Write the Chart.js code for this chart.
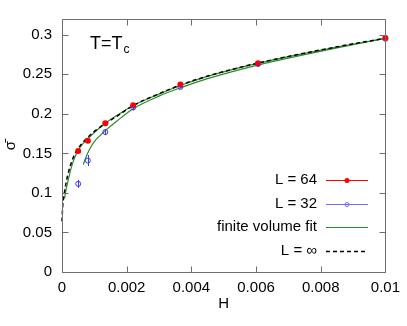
<!DOCTYPE html>
<html>
<head>
<meta charset="utf-8">
<script src="https://cdn.jsdelivr.net/npm/chart.js@4"></script>
<style>
html, body { margin: 0; padding: 0; background: #fff; }
</style>
</head>
<body>
<canvas id="myChart" width="407" height="326"></canvas>
<script>
// measured points
var H = [0.0005, 0.0008, 0.00134, 0.0022, 0.00366, 0.00606, 0.01];
var sigma64 = [0.153, 0.166, 0.188, 0.211, 0.237, 0.264, 0.296];
var sigma32 = [0.1115, 0.141, 0.177, 0.208, 0.234, 0.263, 0.295];
var err32 = [0.005, 0.007, 0.004, 0.003, 0.002, 0.002, 0.002];

// finite volume fits
var fit64H = [0.00008, 0.00012, 0.00018, 0.00026, 0.00034, 0.00045, 0.0006, 0.0008, 0.001, 0.0013, 0.0017, 0.0022, 0.003, 0.0037, 0.0045, 0.0055, 0.0065, 0.0075, 0.0085, 0.01];
var fit64Sigma = [0.093, 0.103, 0.114, 0.128, 0.139, 0.150, 0.160, 0.1685, 0.1765, 0.187, 0.198, 0.2105, 0.225, 0.2365, 0.2475, 0.2585, 0.268, 0.2765, 0.2845, 0.2955];
var fit32H = [0.00066, 0.00075, 0.00085, 0.001, 0.0012, 0.0014, 0.0017, 0.0022, 0.003, 0.0037, 0.0045, 0.0055, 0.0065, 0.0075, 0.0085, 0.01];
var fit32Sigma = [0.136, 0.146, 0.155, 0.165, 0.1735, 0.181, 0.191, 0.2065, 0.2225, 0.2335, 0.2445, 0.256, 0.266, 0.275, 0.2835, 0.2955];

// infinite volume curve
var infH = [0, 0.00002, 0.00008, 0.00018, 0.00034, 0.0005, 0.0008, 0.0011, 0.0014, 0.0017, 0.0022, 0.003, 0.0037, 0.0045, 0.0055, 0.0065, 0.0075, 0.0085, 0.01];
var infSigma = [0.064, 0.082, 0.102, 0.123, 0.144, 0.156, 0.1705, 0.181, 0.1895, 0.197, 0.2105, 0.2255, 0.237, 0.2478, 0.2588, 0.2683, 0.2768, 0.2848, 0.2958];

// ticks
var xTicks = [0, 0.002, 0.004, 0.006, 0.008, 0.01];
var xTickLabels = ["0", "0.002", "0.004", "0.006", "0.008", "0.01"];
var yTicks = [0, 0.05, 0.1, 0.15, 0.2, 0.25, 0.3];
var yTickLabels = ["0", "0.05", "0.1", "0.15", "0.2", "0.25", "0.3"];

var FONT = "'Liberation Sans', Arial, sans-serif";

function pts(xs, ys) {
	var out = [];
	for (var i = 0; i < xs.length; i++) {
		out.push({x: xs[i], y: ys[i]});
	}
	return out;
}

// legend entries, drawn by hand (gnuplot style: text right, sample left)
var legendRows = [
	{text: "L = 64", color: "#ff0000", dash: [], dot: "filled"},
	{text: "L = 32", color: "#6b6bff", dash: [], dot: "open"},
	{text: "finite volume fit", color: "#2a8a2a", dash: [], dot: null},
	{text: "L = \u221e", color: "#000000", dash: [4, 3], dot: null}
];

var extras = {
	id: 'extras',
	afterDatasetsDraw: function(chart) {
		// error bars for L = 32
		var ctx = chart.ctx;
		var xs = chart.scales.x, ys = chart.scales.y;
		ctx.save();
		ctx.strokeStyle = "#3a3aee";
		ctx.lineWidth = 1;
		ctx.beginPath();
		for (var i = 0; i < H.length; i++) {
			var px = Math.round(xs.getPixelForValue(H[i])) + 0.5;
			ctx.moveTo(px, ys.getPixelForValue(sigma32[i] - err32[i]));
			ctx.lineTo(px, ys.getPixelForValue(sigma32[i] + err32[i]));
		}
		ctx.stroke();
		ctx.restore();
	},
	afterDraw: function(chart) {
		var ctx = chart.ctx, a = chart.chartArea;
		var xs = chart.scales.x, ys = chart.scales.y;
		ctx.save();

		//frame + inward ticks
		ctx.strokeStyle = "#6e6e6e";
		ctx.lineWidth = 1;
		ctx.beginPath();
		var L = Math.round(a.left) + 0.5, R = Math.round(a.right) + 0.5;
		var T = Math.round(a.top) + 0.5, B = Math.round(a.bottom) + 0.5;
		ctx.rect(L, T, R - L, B - T);
		xTicks.forEach(function(v) {
			var px = Math.round(xs.getPixelForValue(v)) + 0.5;
			ctx.moveTo(px, B); ctx.lineTo(px, B - 6);
			ctx.moveTo(px, T); ctx.lineTo(px, T + 6);
		});
		yTicks.forEach(function(v) {
			var py = Math.round(ys.getPixelForValue(v)) + 0.5;
			ctx.moveTo(L, py); ctx.lineTo(L + 6, py);
			ctx.moveTo(R, py); ctx.lineTo(R - 6, py);
		});
		ctx.stroke();

		// T = Tc label
		ctx.fillStyle = "#000";
		ctx.textBaseline = "alphabetic";
		ctx.textAlign = "left";
		ctx.font = "18px " + FONT;
		ctx.fillText("T=T", 90, 49);
		var w = ctx.measureText("T=T").width;
		ctx.font = "12px " + FONT;
		ctx.fillText("c", 90 + w + 1, 53);

		// legend
		ctx.font = "15px " + FONT;
		ctx.textAlign = "right";
		ctx.textBaseline = "middle";
		legendRows.forEach(function(r, i) {
			var y = 180 + i * 23.6;
			ctx.fillStyle = "#000";
			ctx.fillText(r.text, 317, y);
			var yy = Math.round(y) + 0.5;
			ctx.strokeStyle = r.color;
			ctx.lineWidth = r.dash.length ? 1.3 : 1;
			ctx.setLineDash(r.dash);
			ctx.beginPath();
			ctx.moveTo(326, yy);
			ctx.lineTo(368, yy);
			ctx.stroke();
			ctx.setLineDash([]);
			if (r.dot === "filled") {
				ctx.fillStyle = r.color;
				ctx.beginPath();
				ctx.arc(347, yy, 2.5, 0, Math.PI * 2);
				ctx.fill();
			} else if (r.dot === "open") {
				ctx.beginPath();
				ctx.arc(347, yy, 2, 0, Math.PI * 2);
				ctx.stroke();
			}
		});
		ctx.restore();
	}
};

Chart.defaults.font.family = FONT;
Chart.defaults.font.size = 15;
Chart.defaults.color = "#000";

var ctx = document.getElementById('myChart').getContext('2d');
var chart = new Chart(ctx, {
	type: 'scatter',
	data: {
		datasets: [{
			label: "L = 64",
			data: pts(H, sigma64),
			backgroundColor: "#ff0000",
			borderWidth: 0,
			pointRadius: 3,
			clip: false
		}, {
			label: "L = 32",
			data: pts(H, sigma32),
			backgroundColor: "rgba(0,0,0,0)",
			borderColor: "#3a3aee",
			borderWidth: 1,
			pointRadius: 2.5,
			clip: false
		}, {
			label: "L = \u221e",
			data: pts(infH, infSigma),
			showLine: true,
			borderColor: "#000",
			borderWidth: 1.5,
			borderDash: [4, 3],
			pointRadius: 0,
			clip: false,
			cubicInterpolationMode: 'monotone'
		}, {
			label: "finite volume fit",
			data: pts(fit64H, fit64Sigma),
			showLine: true,
			borderColor: "#2a8a2a",
			borderWidth: 1.2,
			pointRadius: 0,
			cubicInterpolationMode: 'monotone'
		}, {
			label: "finite volume fit (L = 32)",
			data: pts(fit32H, fit32Sigma),
			showLine: true,
			borderColor: "#2a8a2a",
			borderWidth: 1.2,
			pointRadius: 0,
			cubicInterpolationMode: 'monotone'
		}]
	},
	options: {
		responsive: false,
		animation: false,
		devicePixelRatio: 1,
		layout: {padding: {top: 17, right: 21, left: 0, bottom: 0}},
		plugins: {
			legend: {display: false},
			tooltip: {enabled: false}
		},
		scales: {
			x: {
				type: 'linear',
				min: 0,
				max: 0.01,
				grid: {display: false, drawTicks: false},
				border: {display: false},
				afterBuildTicks: function(s) {
					s.ticks = xTicks.map(function(v) { return {value: v}; });
				},
				afterFit: function(s) { s.height = 54; },
				ticks: {
					padding: 7,
					maxRotation: 0,
					callback: function(v, i) { return xTickLabels[i]; }
				},
				title: {display: true, text: "H", padding: {top: 0, bottom: 13}}
			},
			y: {
				type: 'linear',
				min: 0,
				max: 0.32,
				grid: {display: false, drawTicks: false},
				border: {display: false},
				afterBuildTicks: function(s) {
					s.ticks = yTicks.map(function(v) { return {value: v}; });
				},
				afterFit: function(s) { s.width = 62; },
				ticks: {
					padding: 10,
					callback: function(v, i) { return yTickLabels[i]; }
				},
				title: {display: true, text: "\u03c3\u0304", padding: {top: 2, bottom: 0}}
			}
		}
	},
	plugins: [extras]
});
</script>
</body>
</html>
